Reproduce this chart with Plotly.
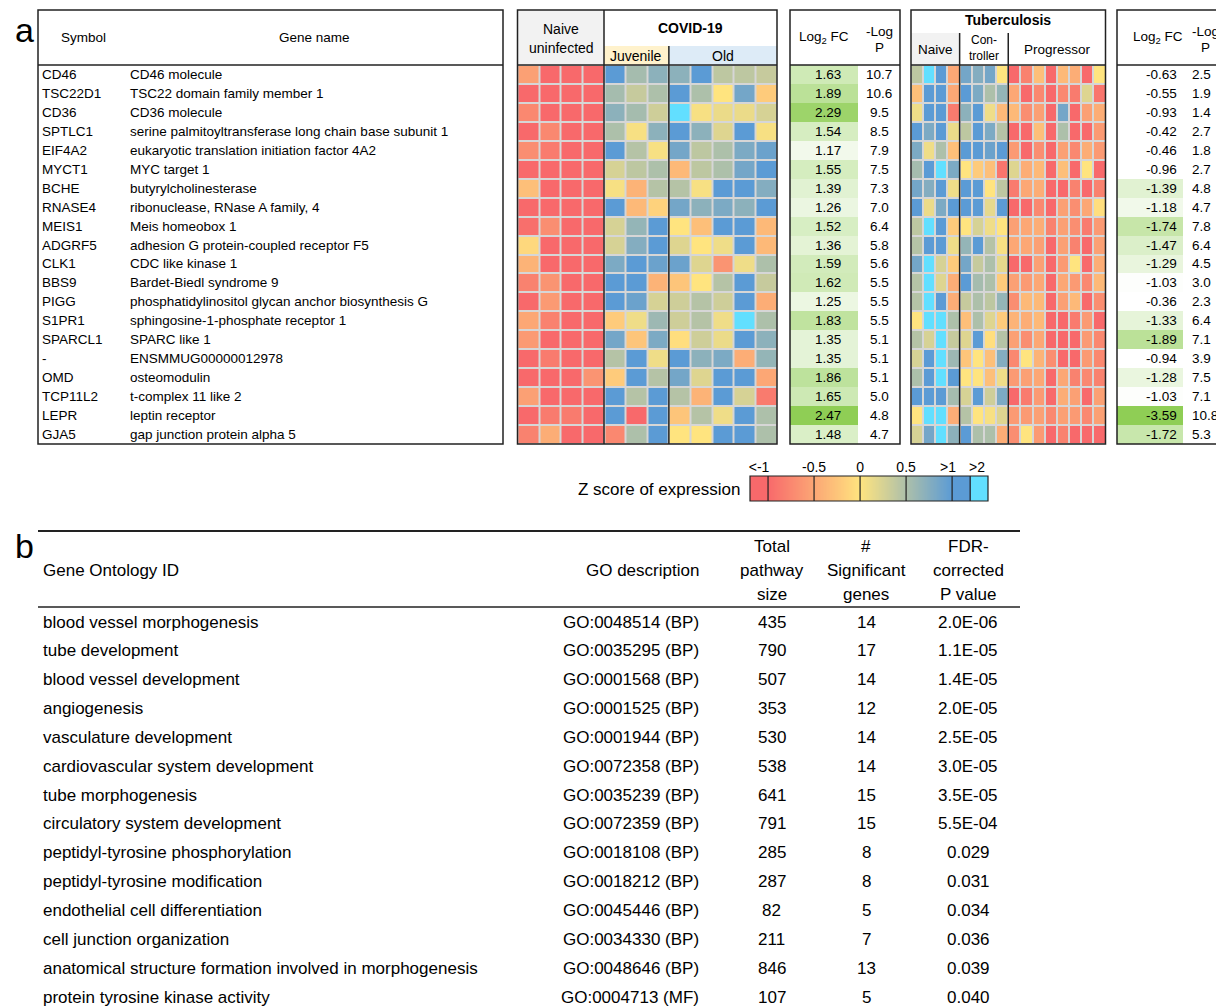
import numpy as np
import plotly.graph_objects as go

# ---------------- DATA ----------------
symbols = ["CD46", "TSC22D1", "CD36", "SPTLC1", "EIF4A2", "MYCT1", "BCHE", "RNASE4", "MEIS1", "ADGRF5",
           "CLK1", "BBS9", "PIGG", "S1PR1", "SPARCL1", "-", "OMD", "TCP11L2", "LEPR", "GJA5"]
gene_names = ["CD46 molecule", "TSC22 domain family member 1", "CD36 molecule",
              "serine palmitoyltransferase long chain base subunit 1",
              "eukaryotic translation initiation factor 4A2", "MYC target 1", "butyrylcholinesterase",
              "ribonuclease, RNase A family, 4", "Meis homeobox 1", "adhesion G protein-coupled receptor F5",
              "CDC like kinase 1", "Bardet-Biedl syndrome 9", "phosphatidylinositol glycan anchor biosynthesis G",
              "sphingosine-1-phosphate receptor 1", "SPARC like 1", "ENSMMUG00000012978", "osteomodulin",
              "t-complex 11 like 2", "leptin receptor", "gap junction protein alpha 5"]
covid_log2fc = [1.63, 1.89, 2.29, 1.54, 1.17, 1.55, 1.39, 1.26, 1.52, 1.36,
                1.59, 1.62, 1.25, 1.83, 1.35, 1.35, 1.86, 1.65, 2.47, 1.48]
covid_neglogp = [10.7, 10.6, 9.5, 8.5, 7.9, 7.5, 7.3, 7.0, 6.4, 5.8,
                 5.6, 5.5, 5.5, 5.5, 5.1, 5.1, 5.1, 5.0, 4.8, 4.7]
tb_log2fc = [-0.63, -0.55, -0.93, -0.42, -0.46, -0.96, -1.39, -1.18, -1.74, -1.47,
             -1.29, -1.03, -0.36, -1.33, -1.89, -0.94, -1.28, -1.03, -3.59, -1.72]
tb_neglogp = [2.5, 1.9, 1.4, 2.7, 1.8, 2.7, 4.8, 4.7, 7.8, 6.4,
              4.5, 3.0, 2.3, 6.4, 7.1, 3.9, 7.5, 7.1, 10.8, 5.3]

# z scores: Naive uninfected (4) | Juvenile (3) | Old (5)
covid_z = [
    [-0.55, -1.2, -1.2, -1.2, 1.2, 0.55, 0.7, 0.7, 1.2, 0.4, 0.4, 0.35],
    [-1.2, -1.2, -1.2, -1.2, 0.55, 0.35, 0.5, 1.2, 0.5, 0.0, 0.85, -0.2],
    [-0.75, -1.2, -1.2, -1.2, 0.7, 0.55, 0.3, 2.2, 0.05, 0.12, 0.12, 0.25],
    [-1.2, -0.75, -1.2, -1.2, 0.5, 0.05, 0.7, 1.1, 0.7, 0.2, 1.2, 0.05],
    [-0.7, -0.85, -1.2, -1.2, 1.2, 0.45, 0.05, 0.85, 0.4, 0.5, 0.8, 0.9],
    [-1.2, -1.2, -1.2, -1.2, 0.25, 0.4, 0.5, -0.35, 0.4, 0.5, 0.85, 1.1],
    [-0.3, -1.2, -1.2, -1.2, 0.05, -0.4, 0.45, 0.45, 0.05, 1.2, 1.1, 0.75],
    [-1.2, -1.2, -1.2, -1.2, 1.1, -0.35, -0.15, 0.85, 0.7, 0.8, 0.7, 1.1],
    [-0.95, -0.7, -1.2, -1.2, 0.25, 0.65, 1.2, 0.0, -0.3, 1.2, 1.1, -0.35],
    [-0.1, -1.2, -1.2, -1.2, 0.25, 0.75, 1.2, 0.2, 0.0, 0.1, 1.2, -0.35],
    [-0.4, -1.2, -1.2, -1.2, 0.8, 1.2, 0.9, 0.9, 0.2, -0.65, 0.1, 0.5],
    [-0.8, -0.65, -1.2, -1.2, 1.2, 1.2, -0.4, -0.25, 0.0, 0.45, 1.2, 0.35],
    [-1.2, -0.6, -1.2, -1.2, 1.2, 0.9, 0.25, 0.3, 0.45, 0.3, 1.2, -0.45],
    [-0.5, -0.8, -1.2, -1.2, -0.2, 0.1, 0.6, 0.3, 0.45, 0.1, 2.2, 0.5],
    [-0.6, -1.2, -1.2, -1.2, 0.85, -0.25, 0.8, -0.05, 0.3, 0.12, 1.2, 0.7],
    [-1.2, -0.85, -1.2, -1.2, 0.45, 1.2, 0.1, 1.2, 0.7, 0.8, -0.45, 0.65],
    [-1.2, -1.2, -1.2, -0.65, -0.2, 1.2, 0.45, 0.85, 0.2, 1.2, 1.2, -0.5],
    [-0.55, -1.2, -1.2, -1.2, 1.2, 0.45, 1.2, 0.45, -0.4, 1.2, 0.25, -0.85],
    [-1.2, -0.85, -0.85, -1.2, 1.2, -1.1, 1.2, -0.25, 0.45, 0.1, 1.2, 0.5],
    [-0.8, -0.45, -1.2, -1.2, -0.75, 0.5, 1.2, 0.0, 0.0, 1.2, 1.2, 0.5],
]
# z scores: Naive (4) | Controller (4) | Progressor (8)
tb_z = [
    [0.4, 2.2, 1.2, -0.5, 0.85, 0.75, 0.85, 0.0, -1.1, -0.8, -0.3, -1.1, -0.35, -0.45, -1.0, 0.0],
    [-0.3, 1.2, 1.2, -0.5, 1.2, 0.8, 0.5, 0.65, -0.5, -1.1, -0.75, -1.1, -0.75, -0.85, 0.2, -0.9],
    [0.1, 1.2, 1.2, -0.85, 0.7, 1.2, 0.1, -0.35, -0.35, -0.7, -0.55, -1.1, 0.85, -1.1, -0.55, -0.45],
    [1.2, 0.8, 1.1, 0.12, 0.4, 1.2, 0.8, 0.45, -1.1, -1.1, -0.3, -1.1, 0.5, -1.1, -1.0, -0.6],
    [0.8, 0.1, 0.5, -0.3, 1.2, 1.2, 0.9, 1.1, -0.6, -1.1, -0.7, -1.1, -0.55, -0.75, -0.45, -0.6],
    [0.55, 1.2, 2.2, 0.8, 0.0, -0.2, -0.3, -0.9, 0.2, -0.45, -0.35, -1.1, -0.3, -1.1, 0.0, -1.0],
    [0.85, 0.75, 1.2, 0.1, 1.2, 1.2, 0.0, 0.4, -0.85, -0.5, -0.45, -1.1, -1.1, -0.8, -1.1, -0.8],
    [1.2, 0.12, 0.8, 1.2, 1.2, 1.2, 0.15, 1.2, -1.1, -1.1, -0.75, -1.1, -0.55, -0.7, -0.5, -0.05],
    [0.4, 2.2, 1.2, -0.2, 0.0, 0.25, 0.1, 0.0, -0.55, -0.5, -0.45, -0.8, -0.55, -0.7, -0.85, -0.6],
    [0.45, 1.2, 1.2, 0.1, 0.65, 1.2, 0.45, 0.05, -0.5, -0.5, -0.55, -1.1, -0.55, -0.8, -1.1, -0.55],
    [0.85, 2.2, 0.25, -0.2, 0.85, 0.35, 0.5, 0.15, -1.1, -1.1, -0.55, -1.1, -0.6, 0.0, -1.0, -0.45],
    [0.45, 2.2, 0.2, -0.45, 1.1, 0.55, 0.5, -0.2, -0.55, -0.6, -0.5, -1.1, -0.5, -0.6, -0.75, -0.35],
    [0.45, 2.2, 1.2, -0.45, 0.35, 0.5, 0.4, 0.65, -0.7, -0.35, -0.35, -1.1, -0.55, -0.35, -1.1, -0.7],
    [0.0, 2.2, 2.2, 0.5, -0.3, 0.5, 0.2, -0.2, -0.4, -0.45, -0.35, -1.1, -1.1, -0.85, -0.6, -1.1],
    [0.45, 0.25, 2.2, 0.35, 0.2, 1.2, -0.05, 0.45, -0.55, -0.7, -0.5, -1.1, -1.1, -1.1, -0.6, -0.75],
    [0.25, 1.2, 2.2, 0.6, -0.25, 0.0, -0.3, 0.75, -0.75, 0.0, -0.4, -0.7, -1.1, -1.1, -0.6, -0.75],
    [0.5, 1.2, 2.2, 1.2, 0.0, 0.0, -0.3, 0.1, -0.6, -0.55, -0.5, -1.1, -0.5, -0.8, -0.75, -0.8],
    [1.2, 1.2, 1.1, 0.55, 0.25, 1.2, 0.3, 0.8, -1.1, -0.85, -0.6, -1.1, -0.45, -0.55, -1.1, -0.55],
    [0.0, 2.2, 2.2, -0.45, 0.45, 0.0, 0.05, 0.2, -0.6, -0.6, -0.55, -0.75, -0.55, -0.6, -0.75, -0.55],
    [0.25, 0.85, 2.2, 0.7, 1.2, 0.5, 0.5, -0.45, -0.7, 0.0, -0.6, -1.1, -0.8, -1.1, -1.1, -1.1],
]

cb_labels = ["&lt;-1", "-0.5", "0", "0.5", "&gt;1", "&gt;2"]
cb_label_pos = [-1.098, -0.5, 0, 0.5, 0.956, 1.271]
cb_bounds = [-1.0, -0.5, 0.0, 0.5, 1.0, 1.196]

go_terms = ["blood vessel morphogenesis", "tube development", "blood vessel development", "angiogenesis",
            "vasculature development", "cardiovascular system development", "tube morphogenesis",
            "circulatory system development", "peptidyl-tyrosine phosphorylation",
            "peptidyl-tyrosine modification", "endothelial cell differentiation", "cell junction organization",
            "anatomical structure formation involved in morphogenesis", "protein tyrosine kinase activity"]
go_ids = ["GO:0048514 (BP)", "GO:0035295 (BP)", "GO:0001568 (BP)", "GO:0001525 (BP)", "GO:0001944 (BP)",
          "GO:0072358 (BP)", "GO:0035239 (BP)", "GO:0072359 (BP)", "GO:0018108 (BP)", "GO:0018212 (BP)",
          "GO:0045446 (BP)", "GO:0034330 (BP)", "GO:0048646 (BP)", "GO:0004713 (MF)"]
pathway_size = [435, 790, 507, 353, 530, 538, 641, 791, 285, 287, 82, 211, 846, 107]
n_significant = [14, 17, 14, 12, 14, 14, 15, 15, 8, 8, 5, 7, 13, 5]
fdr_p = ["2.0E-06", "1.1E-05", "1.4E-05", "2.0E-05", "2.5E-05", "3.0E-05", "3.5E-05", "5.5E-04",
         "0.029", "0.031", "0.034", "0.036", "0.039", "0.040"]

# ---------------- STYLE / LAYOUT HELPERS ----------------
W, H = 1216, 1008
FONT = "Liberation Sans, Arial, sans-serif"
LINE = "#222222"
RED, YEL, BLUE, CYAN = "#F8696B", "#FFE47F", "#5B9BD5", "#62DFFF"
GREEN = "#8FCE55"


def px(x):
    return x / W


def py(y):
    return 1 - y / H


Z_MIN, Z_MAX = -1.196, 1.39


def cpos(z):
    return (z - Z_MIN) / (Z_MAX - Z_MIN)


zscale = [[0, RED], [cpos(-1), RED], [cpos(0), YEL], [cpos(1), BLUE], [cpos(1.196), BLUE],
          [cpos(1.196), CYAN], [1, CYAN]]


def disp(z):
    if z >= 2:
        return 1.3
    if z >= 1:
        return 1.1
    if z <= -1:
        return -1.1
    return z


n = len(symbols)
rows = list(range(n))
fig = go.Figure()

# COVID heatmap
fig.add_trace(go.Heatmap(z=[[disp(v) for v in r] for r in covid_z], x=list(range(12)), y=rows,
                         colorscale=zscale, zmin=Z_MIN, zmax=Z_MAX, showscale=False, xgap=2, ygap=2,
                         xaxis="x", yaxis="y", hoverinfo="skip"))
# COVID log2FC (green)
fig.add_trace(go.Heatmap(z=[[abs(v)] for v in covid_log2fc], x=[0], y=rows,
                         colorscale=[[0, "#FFFFFF"], [1, GREEN]], zmin=1.0, zmax=2.47, showscale=False,
                         xaxis="x2", yaxis="y", hoverinfo="skip"))
# TB heatmap
fig.add_trace(go.Heatmap(z=[[disp(v) for v in r] for r in tb_z], x=list(range(16)), y=rows,
                         colorscale=zscale, zmin=Z_MIN, zmax=Z_MAX, showscale=False, xgap=2, ygap=2,
                         xaxis="x4", yaxis="y", hoverinfo="skip"))
# TB log2FC (green)
fig.add_trace(go.Heatmap(z=[[abs(v)] for v in tb_log2fc], x=[0], y=rows,
                         colorscale=[[0, "#FFFFFF"], [1, GREEN]], zmin=1.0, zmax=2.47, showscale=False,
                         xaxis="x5", yaxis="y", hoverinfo="skip"))
# colour key
cb_x = np.linspace(Z_MIN, Z_MAX, 400)
fig.add_trace(go.Heatmap(z=[cb_x], x=cb_x, y=[0], colorscale=zscale, zmin=Z_MIN, zmax=Z_MAX,
                         showscale=False, xaxis="x7", yaxis="y2", hoverinfo="skip"))

hidden = dict(visible=False, fixedrange=True, showgrid=False, zeroline=False)
fig.update_layout(
    width=W, height=H, margin=dict(l=0, r=0, t=0, b=0),
    paper_bgcolor="white", plot_bgcolor="rgba(0,0,0,0)", showlegend=False,
    font=dict(family=FONT, color="#000000", size=13),
    yaxis=dict(domain=[py(444), py(65)], range=[n - 0.5, -0.5], anchor="x", **hidden),
    xaxis=dict(domain=[px(517.5), px(777)], range=[-0.5, 11.5], anchor="y", **hidden),
    xaxis2=dict(domain=[px(790), px(858)], range=[-0.5, 0.5], anchor="y", **hidden),
    xaxis4=dict(domain=[px(911), px(1105.5)], range=[-0.5, 15.5], anchor="y", **hidden),
    xaxis5=dict(domain=[px(1117), px(1183)], range=[-0.5, 0.5], anchor="y", **hidden),
    yaxis2=dict(domain=[py(501), py(476)], range=[-0.5, 0.5], anchor="x7", **hidden),
    xaxis7=dict(domain=[px(750), px(988)], range=[Z_MIN, Z_MAX], anchor="y2", side="top",
                tickvals=cb_label_pos, ticktext=cb_labels, ticks="", showgrid=False, zeroline=False,
                showline=False, fixedrange=True, tickfont=dict(size=14, family=FONT, color="#000")),
)

shapes = []


def box(x0, y0, x1, y1, w=1.5):
    shapes.append(dict(type="rect", xref="paper", yref="paper", x0=px(x0), x1=px(x1), y0=py(y0), y1=py(y1),
                       line=dict(color=LINE, width=w), fillcolor="rgba(0,0,0,0)", layer="above"))


def fillrect(x0, y0, x1, y1, color):
    shapes.append(dict(type="rect", xref="paper", yref="paper", x0=px(x0), x1=px(x1), y0=py(y0), y1=py(y1),
                       line=dict(width=0), fillcolor=color, layer="below"))


def hline(x0, x1, y, w=1.5):
    shapes.append(dict(type="line", xref="paper", yref="paper", x0=px(x0), x1=px(x1), y0=py(y), y1=py(y),
                       line=dict(color=LINE, width=w), layer="above"))


def vline_data(xref, x, y0, y1, w=1.5):
    shapes.append(dict(type="line", xref=xref, yref="paper", x0=x, x1=x, y0=py(y0), y1=py(y1),
                       line=dict(color=LINE, width=w), layer="above"))


# grey backing behind the heatmap tiles
for ax in ["x", "x4"]:
    shapes.append(dict(type="rect", xref=f"{ax} domain", yref="y domain", x0=0, x1=1, y0=0, y1=1,
                       line=dict(width=0), fillcolor="#D6D6D6", layer="below"))

# header backgrounds
fillrect(517.5, 10, 604, 65, "#F2F2F2")
fillrect(604, 46, 669, 65, "#FFF2CC")
fillrect(669, 46, 777, 65, "#DDEBF7")
fillrect(911, 33, 960, 65, "#F2F2F2")

# boxes
box(38, 10, 503, 444)
hline(38, 503, 65)
box(517.5, 10, 777, 444)
hline(517.5, 777, 65)
vline_data("x", 3.5, 10, 444)
vline_data("x", 6.5, 46, 444)
box(790, 10, 900, 444)
hline(790, 900, 65)
box(911, 10, 1105.5, 444)
hline(911, 1105.5, 65)
vline_data("x4", 3.5, 33, 444)
vline_data("x4", 7.5, 33, 444)
box(1117, 10, 1240, 444)
hline(1117, 1240, 65)
# colour key
for b in cb_bounds:
    shapes.append(dict(type="line", xref="x7", yref="y2 domain", x0=b, x1=b, y0=0, y1=1,
                       line=dict(color=LINE, width=1.2), layer="above"))
box(750, 476, 988, 501, 1.2)
# table b rules
hline(38, 1020, 531, 2)
hline(38, 1020, 607, 1.5)

ann = []


def text(x, y, s, size=13.5, anchor="center", bold=False, yref="paper"):
    yy = py(y) if yref == "paper" else y
    ann.append(dict(x=px(x), y=yy, xref="paper", yref=yref, text=f"<b>{s}</b>" if bold else s,
                    showarrow=False, xanchor=anchor, yanchor="middle", borderpad=0,
                    font=dict(size=size, family=FONT, color="#000")))


# panel labels
text(24, 30, "a", size=34)
text(24, 546, "b", size=34)

# table a headers
text(83, 38, "Symbol", 13.5)
text(314, 38, "Gene name", 13.5)
text(561, 29, "Naive", 14)
text(561, 48, "uninfected", 14)
text(690, 28, "COVID-19", 14, bold=True)
text(636, 56, "Juvenile", 14)
text(723, 56, "Old", 14)
text(824, 38, "Log<sub>2</sub> FC", 13.5)
text(879, 31, "-Log", 13.5)
text(879, 47, "P", 13.5)
text(1008, 20, "Tuberculosis", 14, bold=True)
text(935, 49, "Naive", 13.5)
text(984, 40, "Con-", 12)
text(984, 56, "troller", 12)
text(1057, 49, "Progressor", 13.5)
text(1158, 38, "Log<sub>2</sub> FC", 13.5)
text(1205, 31, "-Log", 13.5)
text(1205, 47, "P", 13.5)

for i in rows:
    text(41, i, symbols[i], 13.5, anchor="left", yref="y")
    text(129, i, gene_names[i], 13.5, anchor="left", yref="y")
    text(828, i, f"{covid_log2fc[i]:.2f}", 13.5, yref="y")
    text(879, i, f"{covid_neglogp[i]:.1f}", 13.5, yref="y")
    text(1161, i, f"{tb_log2fc[i]:.2f}", 13.5, yref="y")
    text(1191, i, f"{tb_neglogp[i]:.1f}", 13.5, anchor="left", yref="y")

# colour key title
text(742, 489, "Z score of expression", 17, anchor="right")

# table b
text(42, 570, "Gene Ontology ID", 17, anchor="left")
text(700, 570, "GO description", 17, anchor="right")
for j, s in enumerate(["Total", "pathway", "size"]):
    text(772, 546 + 24 * j, s, 17)
for j, s in enumerate(["#", "Significant", "genes"]):
    text(866, 546 + 24 * j, s, 17)
for j, s in enumerate(["FDR-", "corrected", "P value"]):
    text(968, 546 + 24 * j, s, 17)

for i in range(len(go_terms)):
    yy = 622 + 28.85 * i
    text(42, yy, go_terms[i], 17, anchor="left")
    text(700, yy, go_ids[i], 17, anchor="right")
    text(772, yy, str(pathway_size[i]), 17)
    text(866, yy, str(n_significant[i]), 17)
    text(968, yy, fdr_p[i], 17)

fig.update_layout(shapes=shapes, annotations=ann)
fig.write_html("out.html", config={"displayModeBar": False, "staticPlot": True},
               post_script="document.body.style.margin='0';document.body.style.overflow='hidden';")
